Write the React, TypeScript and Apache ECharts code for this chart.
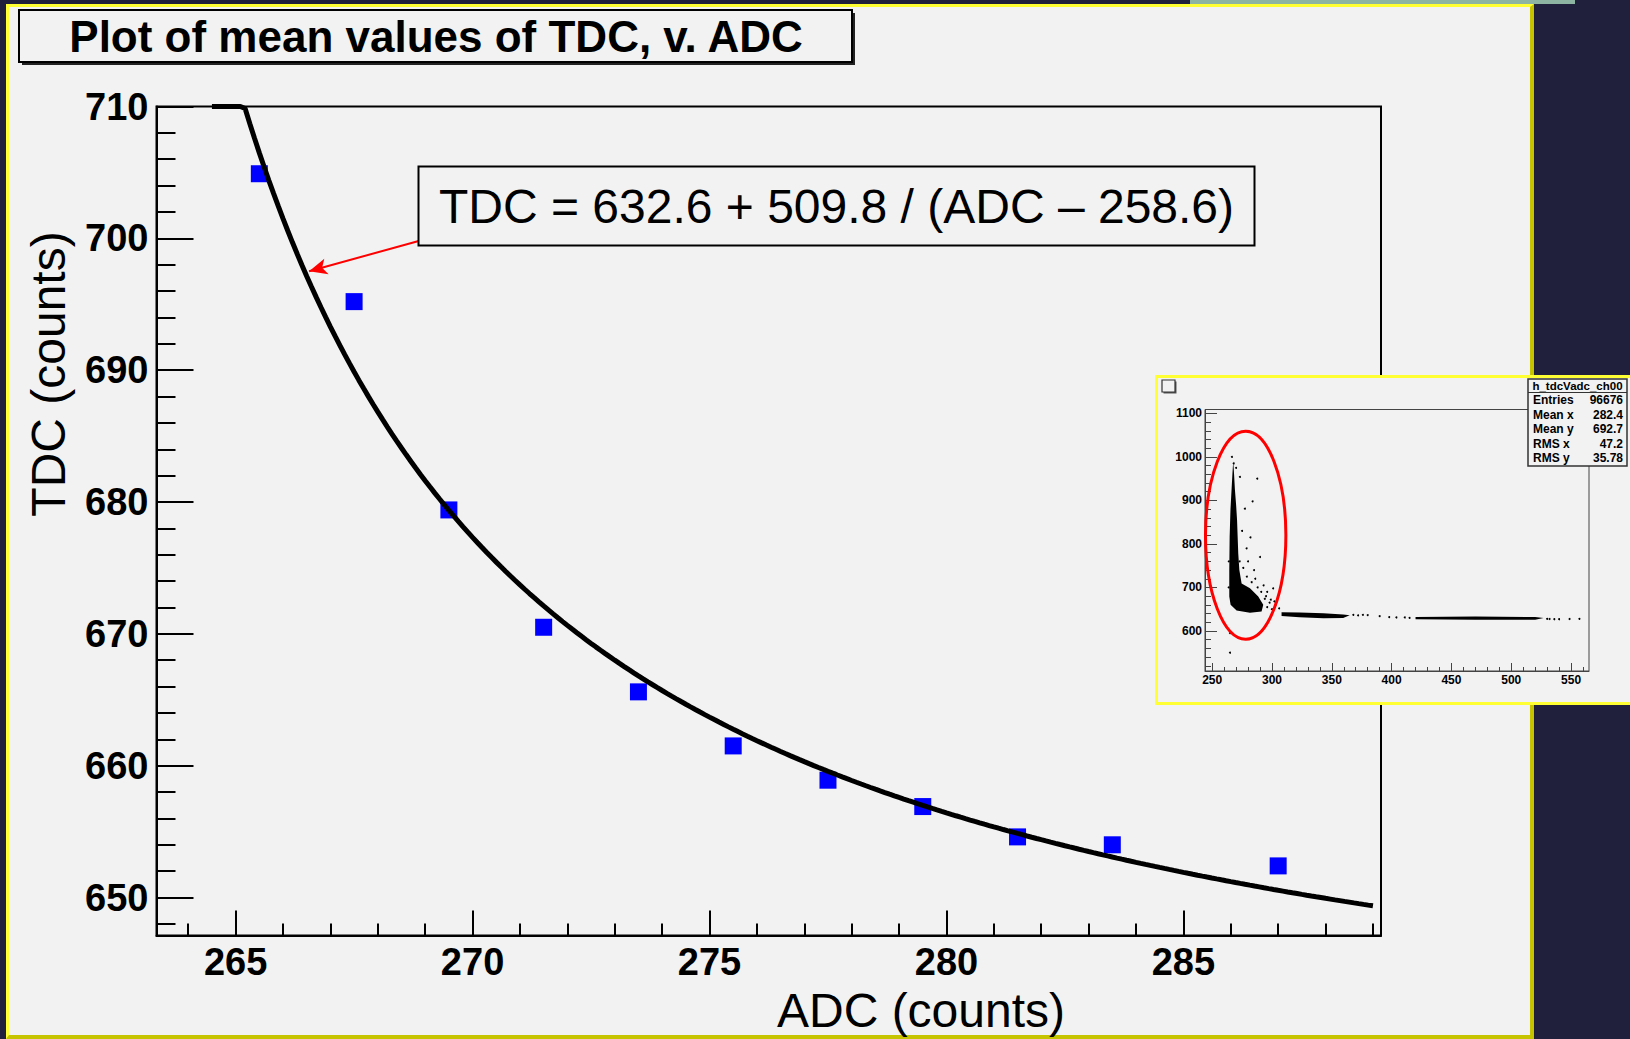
import React, { useEffect, useRef } from "react";
import * as echarts from "echarts";

const FONT = '"Liberation Sans", Arial, Helvetica, sans-serif';

// ---- Mean TDC per ADC bin ----
const adcBins = [265.5, 267.5, 269.5, 271.5, 273.5, 275.5, 277.5, 279.5, 281.5, 283.5, 287.0];
const tdcMeans = [704.9, 695.2, 679.4, 670.5, 665.6, 661.5, 658.9, 656.9, 654.6, 654.0, 652.4];

// ---- Fit: TDC = p0 + p1 / (ADC - p2) ----
const fitP0 = 632.6;
const fitP1 = 509.8;
const fitP2 = 258.6;
const fitRange = [264.5, 289.0];
const fitLabel = "TDC = 632.6 + 509.8 / (ADC \u2013 258.6)";

// ---- Main axes ----
const mainXRange = [263.33, 289.17];
const mainYRange = [647.12, 710];
const mainXMajor = [265, 270, 275, 280, 285];
const mainXMinor = [264, 266, 267, 268, 269, 271, 272, 273, 274, 276, 277, 278, 279, 281, 282, 283, 284, 286, 287, 288, 289];
const mainYMajor = [650, 660, 670, 680, 690, 700, 710];
const mainYMinor = [648, 652, 654, 656, 658, 662, 664, 666, 668, 672, 674, 676, 678, 682, 684, 686, 688, 692, 694, 696, 698, 702, 704, 706, 708];

// Arrow from the fit label to the curve (ADC, TDC)
const arrowFrom = [268.92, 699.86];
const arrowTo = [266.55, 697.5];

// ---- Inset: TDC v. ADC scatter (h_tdcVadc_ch00) ----
const insetXRange = [244, 565];
const insetYRange = [508, 1109];
const insetXMajor = [250, 300, 350, 400, 450, 500, 550];
const insetXMinor = [260, 270, 280, 290, 310, 320, 330, 340, 360, 370, 380, 390, 410, 420, 430, 440, 460, 470, 480, 490, 510, 520, 530, 540, 560];
const insetYMajor = [600, 700, 800, 900, 1000, 1100];
const insetYMinor = [520, 540, 560, 580, 620, 640, 660, 680, 720, 740, 760, 780, 820, 840, 860, 880, 920, 940, 960, 980, 1020, 1040, 1060, 1080];

// Dense regions of the scatter, as outlines in (ADC, TDC)
const insetSpike = [
  [267.6, 990], [268.3, 960], [269.0, 925], [270.0, 890], [270.8, 855], [271.3, 816], [271.8, 778],
  [272.7, 740], [274.6, 709], [281.6, 698], [288.5, 679], [292.7, 660], [291.3, 645], [281.6, 642],
  [270.4, 647], [265.4, 660], [264.3, 679], [264.3, 740], [264.6, 816], [265.3, 880], [266.3, 930], [267.0, 965],
];
const insetBand1 = [
  [308, 643], [323, 642.5], [343, 640.5], [359.5, 638], [365, 636], [359.5, 630], [343, 629], [323, 631.5], [308, 634.5],
];
const insetBand2 = [
  [420, 632], [470, 633], [520, 632], [527, 630], [520, 626], [470, 625.5], [420, 627],
];
const insetBlobs = [insetSpike, insetBand1, insetBand2];

// Isolated entries
const insetSparse = [
  [287.7, 950], [283.8, 898], [278.8, 790], [301, 698], [264.9, 595], [264.9, 550], [273.2, 954],
  [277.4, 881], [290, 770], [285, 740], [296, 690], [299, 672], [303, 660], [306, 652], [372, 636],
  [376, 637], [380, 636.5], [404, 631], [411, 631], [415, 630], [532, 627.5], [540, 627], [548.7, 627.5],
  [557, 628], [368, 637], [270, 975], [275, 830], [282, 815], [286, 720], [293, 705], [298, 665],
  [530, 628], [536, 627], [280, 760], [288, 700], [295, 680], [302, 668], [390, 634], [398, 632],
  [266.5, 1000], [268, 985], [273, 760], [276, 745], [279, 725], [283, 712], [291, 690], [294, 674],
  [296, 655], [263.8, 700], [263.9, 760], [300, 650],
];

// Selection ellipse (ADC, TDC centre and half-axes)
const ellipseCenter = [278, 820];
const ellipseRadii = [33.6, 239];

// Stats box
const statsTitle = "h_tdcVadc_ch00";
const statsLabels = ["Entries", "Mean x", "Mean y", "RMS x", "RMS y"];
const statsValues = ["96676", "282.4", "692.7", "47.2", "35.78"];

const chartTitle = "Plot of mean values of TDC, v. ADC";
const xTitle = "ADC (counts)";
const yTitle = "TDC (counts)";

const NAVY = "#20203c";
const PANEL = "#f2f2f2";
const YELLOW = "#ffff33";
const OLIVE = "#c6c300";

function fitCurve(): number[][] {
  const pts: number[][] = [];
  for (let x = fitRange[0]; x <= fitRange[1] + 1e-9; x += 0.1) {
    const y = fitP0 + fitP1 / (x - fitP2);
    pts.push([x, Math.min(y, mainYRange[1])]);
  }
  return pts;
}

function valueAxis(grid: number, range: number[], ticks: number[], tickLen: number, labels: boolean, line: boolean, color: string, width: number, fontSize: number, margin: number, position: string) {
  return {
    gridIndex: grid,
    type: "value",
    position,
    min: range[0],
    max: range[1],
    z: grid === 0 ? 0 : 11,
    axisLine: { show: line, onZero: false, lineStyle: { color, width } },
    axisTick: { show: true, inside: true, length: tickLen, customValues: ticks, lineStyle: { color, width } },
    axisLabel: labels
      ? { show: true, customValues: ticks, margin, fontSize, fontWeight: "bold", fontFamily: FONT, color: "#000", formatter: (v: number) => String(v) }
      : { show: false },
    splitLine: { show: false },
  };
}

export default function App() {
  const ref = useRef<HTMLDivElement>(null);

  useEffect(() => {
    document.body.style.margin = "0";
    const chart = echarts.init(ref.current!, null, { renderer: "svg", width: 1630, height: 1039 });

    const statsRows: any[] = [];
    statsLabels.forEach((lab, i) => {
      const y = 400 + i * 14.5;
      statsRows.push({ type: "text", z: 14, style: { text: lab, x: 1533, y, fill: "#000", fontSize: 12, fontWeight: "bold", fontFamily: FONT, align: "left", verticalAlign: "middle" } });
      statsRows.push({ type: "text", z: 14, style: { text: statsValues[i], x: 1623, y, fill: "#000", fontSize: 12, fontWeight: "bold", fontFamily: FONT, align: "right", verticalAlign: "middle" } });
    });

    chart.setOption({
      animation: false,
      backgroundColor: "transparent",
      grid: [
        { left: 156.5, top: 106.5, width: 1224.5, height: 829, show: true, borderColor: "#000", borderWidth: 2, backgroundColor: "transparent", z: 0 },
        { left: 1205, top: 409.5, width: 384, height: 261.5, show: true, borderColor: "#444", borderWidth: 1, backgroundColor: "transparent", z: 11 },
      ],
      xAxis: [
        valueAxis(0, mainXRange, mainXMajor, 25, true, true, "#000", 2, 38, 7, "bottom"),
        valueAxis(0, mainXRange, mainXMinor, 12, false, false, "#000", 2, 38, 7, "bottom"),
        valueAxis(1, insetXRange, insetXMajor, 8, true, true, "#444", 1, 12, 3, "bottom"),
        valueAxis(1, insetXRange, insetXMinor, 4, false, false, "#444", 1, 12, 3, "bottom"),
      ],
      yAxis: [
        valueAxis(0, mainYRange, mainYMajor, 37, true, true, "#000", 2, 38, 8, "left"),
        valueAxis(0, mainYRange, mainYMinor, 19, false, false, "#000", 2, 38, 8, "left"),
        valueAxis(1, insetYRange, insetYMajor, 12, true, true, "#444", 1, 12, 3, "left"),
        valueAxis(1, insetYRange, insetYMinor, 6, false, false, "#444", 1, 12, 3, "left"),
      ],
      series: [
        {
          type: "scatter",
          xAxisIndex: 0,
          yAxisIndex: 0,
          z: 2,
          symbol: "rect",
          symbolSize: 17,
          itemStyle: { color: "#0000ff", opacity: 1 },
          data: adcBins.map((x, i) => [x, tdcMeans[i]]),
        },
        {
          type: "line",
          xAxisIndex: 0,
          yAxisIndex: 0,
          z: 3,
          showSymbol: false,
          symbol: "none",
          lineStyle: { color: "#000", width: 5 },
          data: fitCurve(),
          markLine: {
            silent: true,
            symbol: ["none", "arrow"],
            symbolSize: [12, 18],
            lineStyle: { color: "#ff0000", width: 2, type: "solid" },
            label: { show: false },
            data: [[{ coord: arrowFrom }, { coord: arrowTo }]],
          },
        },
        {
          type: "custom",
          xAxisIndex: 2,
          yAxisIndex: 2,
          z: 12,
          data: insetBlobs.map((b) => b[0]),
          renderItem: (params: any, api: any) => {
            const poly = insetBlobs[params.dataIndex];
            return {
              type: "polygon",
              shape: { points: poly.map((p) => api.coord(p)) },
              style: { fill: "#000" },
            };
          },
        },
        {
          type: "scatter",
          xAxisIndex: 2,
          yAxisIndex: 2,
          z: 12,
          symbol: "circle",
          symbolSize: 2,
          itemStyle: { color: "#000", opacity: 1 },
          data: insetSparse,
        },
        {
          type: "custom",
          xAxisIndex: 2,
          yAxisIndex: 2,
          z: 13,
          clip: false,
          data: [ellipseCenter],
          renderItem: (_params: any, api: any) => {
            const c = api.coord(ellipseCenter);
            const s = api.size(ellipseRadii, ellipseCenter);
            return {
              type: "ellipse",
              shape: { cx: c[0], cy: c[1], rx: s[0], ry: s[1] },
              style: { fill: "none", stroke: "#ff0000", lineWidth: 3 },
            };
          },
        },
      ],
      graphic: [
        // Title box with shadow
        { type: "rect", z: 10, shape: { x: 22, y: 13, width: 833, height: 52 }, style: { fill: "#222" } },
        { type: "rect", z: 10, shape: { x: 19, y: 10, width: 833, height: 52 }, style: { fill: PANEL, stroke: "#000", lineWidth: 2 } },
        { type: "text", z: 10, style: { text: chartTitle, x: 436, y: 36, fill: "#000", fontSize: 44, fontWeight: "bold", fontFamily: FONT, align: "center", verticalAlign: "middle" } },
        // Fit label box
        { type: "rect", z: 10, shape: { x: 418.5, y: 166.5, width: 836, height: 79 }, style: { fill: PANEL, stroke: "#000", lineWidth: 2 } },
        { type: "text", z: 10, style: { text: fitLabel, x: 836.5, y: 206, fill: "#000", fontSize: 48, fontFamily: FONT, align: "center", verticalAlign: "middle" } },
        // Axis titles
        { type: "text", z: 10, x: 48, y: 374, rotation: Math.PI / 2, style: { text: yTitle, x: 0, y: 0, fill: "#000", fontSize: 48, fontFamily: FONT, align: "center", verticalAlign: "middle" } },
        { type: "text", z: 10, style: { text: xTitle, x: 921, y: 1010, fill: "#000", fontSize: 48, fontFamily: FONT, align: "center", verticalAlign: "middle" } },
        // Inset panel
        { type: "rect", z: 10, shape: { x: 1156.5, y: 376.5, width: 500, height: 327 }, style: { fill: PANEL, stroke: YELLOW, lineWidth: 3 } },
        // Inset checkbox
        { type: "rect", z: 14, shape: { x: 1163.5, y: 381.5, width: 13, height: 12 }, style: { fill: "#555" } },
        { type: "rect", z: 14, shape: { x: 1162, y: 380, width: 13, height: 12 }, style: { fill: PANEL, stroke: "#333", lineWidth: 1.2 } },
        // Stats box
        { type: "rect", z: 14, shape: { x: 1528, y: 379, width: 99, height: 87 }, style: { fill: PANEL, stroke: "#333", lineWidth: 1.5 } },
        { type: "line", z: 14, shape: { x1: 1528, y1: 392.5, x2: 1627, y2: 392.5 }, style: { stroke: "#333", lineWidth: 1.2 } },
        { type: "text", z: 14, style: { text: statsTitle, x: 1577.5, y: 386, fill: "#000", fontSize: 11.5, fontWeight: "bold", fontFamily: FONT, align: "center", verticalAlign: "middle" } },
        ...statsRows,
      ],
    });

    return () => chart.dispose();
  }, []);

  return (
    <div style={{ position: "fixed", left: 0, top: 0, width: 1630, height: 1039, background: NAVY, overflow: "hidden" }}>
      <div style={{ position: "absolute", left: 1190, top: 0, width: 385, height: 4, background: "#8db4a3" }} />
      <div
        style={{
          position: "absolute",
          left: 6,
          top: 4,
          width: 1528,
          height: 1035,
          boxSizing: "border-box",
          background: PANEL,
          borderTop: `3px solid ${YELLOW}`,
          borderLeft: `3px solid ${YELLOW}`,
          borderRight: `4px solid ${OLIVE}`,
          borderBottom: `4px solid ${OLIVE}`,
        }}
      />
      <div ref={ref} style={{ position: "absolute", left: 0, top: 0, width: 1630, height: 1039 }} />
    </div>
  );
}
